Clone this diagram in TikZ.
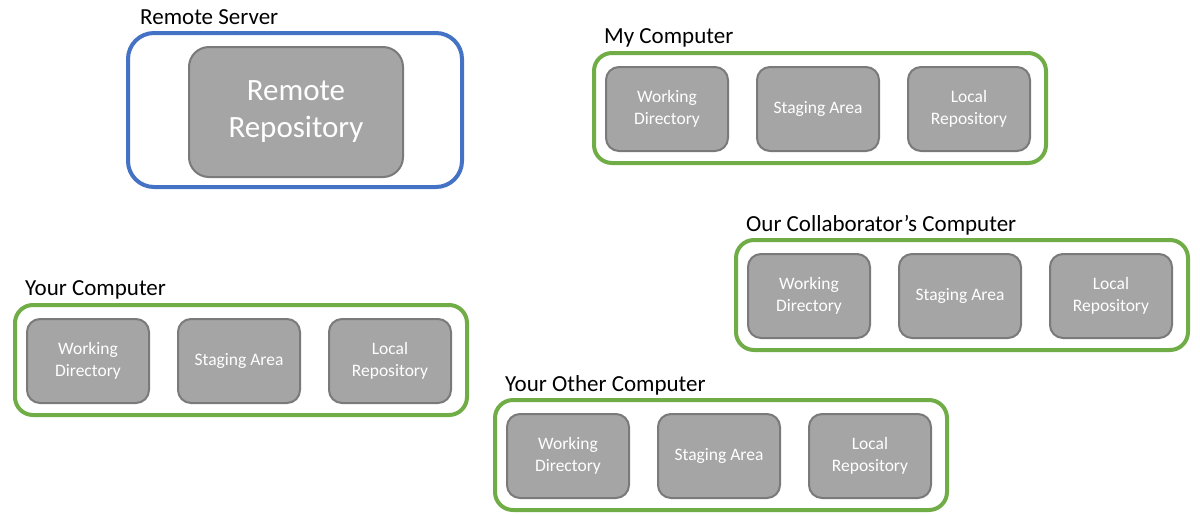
\documentclass[tikz,border=0pt]{standalone}
\usepackage{fontspec}
\setmainfont{Carlito}
\definecolor{boxgreen}{HTML}{70AD47}
\definecolor{boxblue}{HTML}{4472C4}
\definecolor{repofill}{HTML}{A5A5A5}
\definecolor{repoline}{HTML}{7A7A7A}
\newcommand\twolines[2]{\raisebox{-2pt}{\begin{tabular}{@{}c@{}}#1\\#2\end{tabular}}}
\tikzset{
  outerbox/.style={draw=boxgreen, line width=4pt, rounded corners=18pt, fill=white, inner sep=0pt},
  serverbox/.style={draw=boxblue, line width=4pt, rounded corners=26pt, fill=white, inner sep=0pt},
  inbox/.style={draw=repoline, line width=2pt, fill=repofill, rounded corners=13pt, text=white,
    minimum width=122pt, minimum height=84pt, inner sep=0pt, align=center,
    font=\fontsize{17.5}{22}\selectfont},
  bigbox/.style={draw=repoline, line width=2pt, fill=repofill, rounded corners=20pt, text=white,
    minimum width=214pt, minimum height=130pt, inner sep=0pt, align=center,
    font=\fontsize{31}{37}\selectfont},
  title/.style={anchor=west, inner sep=0pt, font=\fontsize{23}{26}\selectfont, text=black}
}
\newcommand\computerbox[4]{%
  \node[outerbox, minimum width=452pt, minimum height=110pt] (#1) at (#2+226,#3+55) {};
  \node[title] (#1-t) at (#2+10,#3-15) {#4};
  \node[inbox] (#1-wd) at (#2+73,#3+56) {\twolines{Working}{Directory}};
  \node[inbox] (#1-sa) at (#2+224,#3+56) {\raisebox{-2pt}{Staging Area}};
  \node[inbox] (#1-lr) at (#2+375,#3+56) {\twolines{Local}{Repository}};
}
\begin{document}
\begin{tikzpicture}[x=1pt,y=-1pt]
\useasboundingbox (0,0) rectangle (1200,515);
% Remote server
\node[serverbox, minimum width=334pt, minimum height=154pt] (server) at (295,110) {};
\node[title] (server-t) at (140,17) {Remote Server};
\node[bigbox] (remote) at (296,112) {\raisebox{-3pt}{\begin{tabular}{@{}c@{}}Remote\\Repository\end{tabular}}};
% Computers
\computerbox{my}{594}{53}{My Computer}
\computerbox{collab}{736}{240}{Our Collaborator’s Computer}
\computerbox{your}{15}{305}{Your Computer}
\computerbox{other}{495}{400}{Your Other Computer}
\end{tikzpicture}
\end{document}
